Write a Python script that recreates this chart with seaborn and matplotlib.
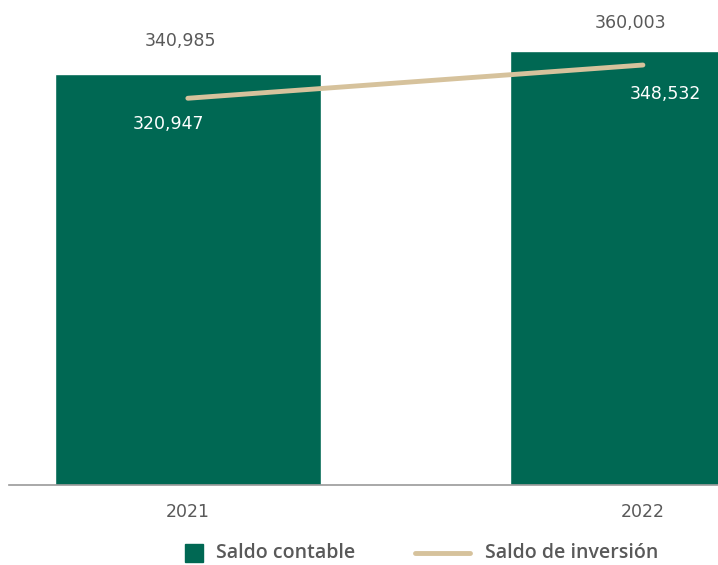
import matplotlib
matplotlib.use("Agg")
import matplotlib.pyplot as plt
import seaborn as sns
from matplotlib.patches import Rectangle
from matplotlib.lines import Line2D

# datos
years = ["2021", "2022"]
saldo_contable = [340985, 360003]
saldo_inversion = [320947, 348532]
series_names = ["Saldo contable", "Saldo de inversión"]

GREEN = "#006853"
BEIGE = "#D6C29C"
GRAY = "#595959"

sns.set_theme(style="white")
plt.rcParams['font.family'] = ['DejaVu Sans']

W, H = 718, 565
fig = plt.figure(figsize=(W / 100, H / 100), dpi=100)
ax = fig.add_axes([9 / W, 80 / H, 709 / W, 482 / H])

sns.barplot(x=years, y=saldo_contable, color=GREEN, width=0.585, saturation=1, ax=ax)
sns.lineplot(x=list(range(len(years))), y=saldo_inversion, color=BEIGE, lw=3.5, ax=ax)

ax.set_xlim(-0.393, 1.165)
ax.set_ylim(0, 400000)
ax.set_yticks([])
ax.set_ylabel("")
for s in ["top", "left", "right"]:
    ax.spines[s].set_visible(False)
ax.spines["bottom"].set_color("#999999")
ax.spines["bottom"].set_linewidth(1.2)
ax.tick_params(axis="x", length=0, pad=13, labelsize=12.5, labelcolor=GRAY)

# etiquetas
bar_off = [(-7, 33), (-12, 28)]
line_off = [(-19, -26), (22, -29)]
for i, v in enumerate(saldo_contable):
    ax.annotate(f"{v:,}", (i, v), xytext=bar_off[i], textcoords="offset pixels",
                ha="center", va="center", fontsize=12.5, color=GRAY)
for i, v in enumerate(saldo_inversion):
    ax.annotate(f"{v:,}", (i, v), xytext=line_off[i], textcoords="offset pixels",
                ha="center", va="center", fontsize=12.5, color="white")

# leyenda (dibujada a mano para fijar tamaños de los símbolos)
ly = 1 - 553 / H
fig.patches.append(Rectangle((185 / W, 1 - 562 / H), 18 / W, 18 / H,
                             transform=fig.transFigure, color=GREEN))
fig.lines.append(Line2D([415 / W, 470 / W], [ly, ly], transform=fig.transFigure,
                        color=BEIGE, lw=3.5, solid_capstyle="round"))
fig.text(216 / W, ly, series_names[0], ha="left", va="center", fontsize=14,
         color=GRAY, family=["Open Sans", "DejaVu Sans"], weight="semibold")
fig.text(485 / W, ly, series_names[1], ha="left", va="center", fontsize=14,
         color=GRAY, family=["Open Sans", "DejaVu Sans"], weight="semibold")

fig.savefig("out.png", dpi=100)
